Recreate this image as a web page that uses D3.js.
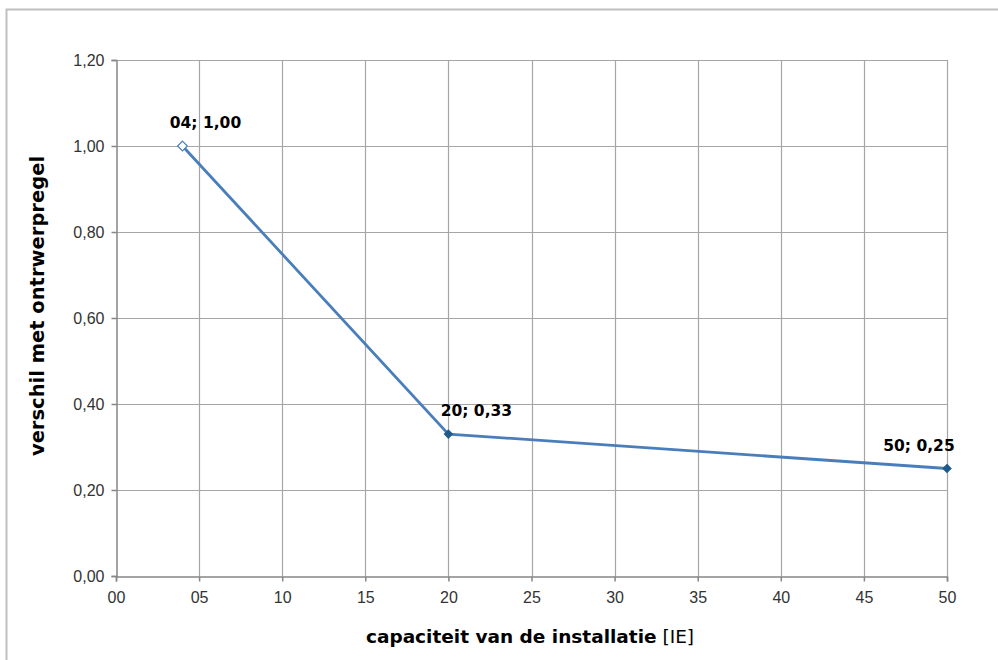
<!DOCTYPE html>
<html>
<head>
<meta charset="utf-8">
<script src="https://cdn.jsdelivr.net/npm/d3@7"></script>
<style>
	body { margin: 0; background: #fff; }
	svg { font-family: 'DejaVu Sans', sans-serif; }
</style>
</head>
<body>
<div id="chart"></div>
<script>
var capaciteit = [4, 20, 50];
var verschil = [1.00, 0.33, 0.25];
var labels = ['04; 1,00', '20; 0,33', '50; 0,25'];
var xTicks = [0, 5, 10, 15, 20, 25, 30, 35, 40, 45, 50];
var yTicks = [0, 0.2, 0.4, 0.6, 0.8, 1.0, 1.2];

var width = 998;
var height = 660;
var margin = {left: 116, right: 51, top: 60, bottom: 84};

var svg = d3.select('#chart')
	.append('svg')
	.attr('width', width)
	.attr('height', height);

// outer chart frame (cut off right and bottom)
svg.append('rect')
	.attr('x', 6.5).attr('y', 9.5)
	.attr('width', 1100).attr('height', 800)
	.attr('fill', 'none')
	.attr('stroke', '#c0c0c0')
	.attr('stroke-width', 2);

var x = d3.scaleLinear().domain([0, 50]).range([margin.left, width - margin.right]);
var y = d3.scaleLinear().domain([0, 1.2]).range([height - margin.bottom, margin.top]);

var fmtY = function(d) { return d3.format('.2f')(d).replace('.', ','); };
var fmtX = function(d) { return d3.format('02d')(d); };

// gridlines
svg.append('g').selectAll('line.gy')
	.data(yTicks.slice(1))
	.enter().append('line')
	.attr('x1', x(0)).attr('x2', x(50))
	.attr('y1', function(d){ return Math.round(y(d)) + 0.5; })
	.attr('y2', function(d){ return Math.round(y(d)) + 0.5; })
	.attr('stroke', '#a6a6a6').attr('stroke-width', 1.2);

svg.append('g').selectAll('line.gx')
	.data(xTicks.slice(1))
	.enter().append('line')
	.attr('y1', y(0)).attr('y2', y(1.2))
	.attr('x1', function(d){ return Math.round(x(d)) + 0.5; })
	.attr('x2', function(d){ return Math.round(x(d)) + 0.5; })
	.attr('stroke', '#a6a6a6').attr('stroke-width', 1.2);

// axes
var xAxis = d3.axisBottom(x).tickValues(xTicks).tickFormat(fmtX).tickSize(5).tickPadding(10);
var yAxis = d3.axisLeft(y).tickValues(yTicks).tickFormat(fmtY).tickSize(5).tickPadding(7);

var gx = svg.append('g')
	.attr('transform', 'translate(0,' + (Math.round(y(0)) + 0.5) + ')')
	.call(xAxis);
var gy = svg.append('g')
	.attr('transform', 'translate(' + (Math.round(x(0)) + 0.5) + ',0)')
	.call(yAxis);

[gx, gy].forEach(function(g){
	g.selectAll('path, line').attr('stroke', '#868686').attr('stroke-width', 1.5);
	g.selectAll('text').attr('fill', '#333').style('font-size', '16px');
});

// axis titles
var xt = svg.append('text')
	.attr('x', 530).attr('y', 643)
	.attr('text-anchor', 'middle')
	.style('font-size', '18.5px')
	.attr('fill', '#000');
xt.append('tspan').attr('font-weight', 'bold').text('capaciteit van de installatie');
xt.append('tspan').text('  [IE]');

svg.append('text')
	.attr('transform', 'translate(44,306) rotate(-90)')
	.attr('text-anchor', 'middle')
	.attr('font-weight', 'bold')
	.style('font-size', '19.5px')
	.attr('fill', '#000')
	.text('verschil met ontrwerpregel');

// line
var pts = capaciteit.map(function(c, i){ return [c, verschil[i]]; });
svg.append('path')
	.datum(pts)
	.attr('fill', 'none')
	.attr('stroke', '#4a7ebb')
	.attr('stroke-width', 2.8)
	.attr('d', d3.line()
		.x(function(d){ return x(d[0]); })
		.y(function(d){ return y(d[1]); }));

// markers
var diamond = d3.symbol().type(d3.symbolDiamond2);
svg.append('g').selectAll('path')
	.data(pts)
	.enter().append('path')
	.attr('transform', function(d){ return 'translate(' + x(d[0]) + ',' + y(d[1]) + ')'; })
	.attr('d', function(d, i){ return diamond.size(i == 0 ? 60 : 40)(); })
	.attr('fill', function(d, i){ return i == 0 ? '#fff' : '#1f5a8c'; })
	.attr('stroke', function(d, i){ return i == 0 ? '#4a7ebb' : '#1f5a8c'; })
	.attr('stroke-width', 1.2);

// data labels
var dx = [23, 28, -28];
svg.append('g').selectAll('text')
	.data(pts)
	.enter().append('text')
	.attr('x', function(d, i){ return x(d[0]) + dx[i]; })
	.attr('y', function(d){ return y(d[1]) - 18; })
	.attr('text-anchor', 'middle')
	.attr('font-weight', 'bold')
	.style('font-size', '15.5px')
	.attr('fill', '#000')
	.text(function(d, i){ return labels[i]; });
</script>
</body>
</html>
